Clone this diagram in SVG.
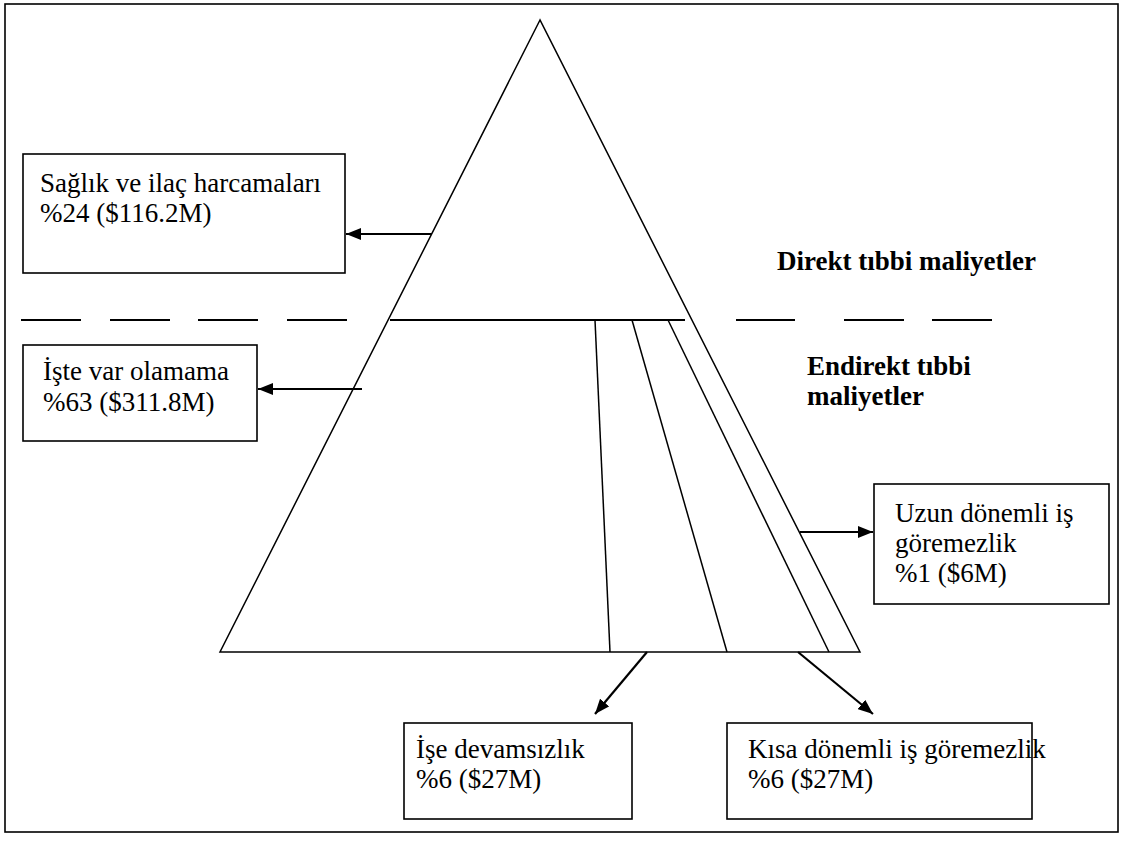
<svg xmlns="http://www.w3.org/2000/svg" width="1123" height="843" viewBox="0 0 1123 843">
<defs>
<marker id="ah" viewBox="0 0 10 10" refX="10" refY="5" markerWidth="15" markerHeight="12" markerUnits="userSpaceOnUse" orient="auto" preserveAspectRatio="none">
<path d="M0,0 L10,5 L0,10 z" fill="#000"/>
</marker>
</defs>
<style>
.t{font-family:"Liberation Serif","Times New Roman",serif;font-size:27px;fill:#000}
.b{font-weight:bold}
.box{fill:#fff;stroke:#000;stroke-width:1.6}
.ln{stroke:#000;stroke-width:1.5;fill:none}
.ar{stroke:#000;stroke-width:2.2;fill:none}
.ds{stroke:#000;stroke-width:2}
</style>
<rect width="1123" height="843" fill="#fff"/>
<rect x="5" y="4" width="1113" height="828" fill="none" stroke="#000" stroke-width="1.6"/>
<g id="pyramid">
<polygon points="540,20 220,652 860,652" class="ln"/>
<line x1="390" y1="320" x2="685" y2="320" class="ds"/>
<line x1="595" y1="320" x2="610" y2="652" class="ln"/>
<line x1="632" y1="320" x2="727" y2="652" class="ln"/>
<line x1="668" y1="320" x2="829" y2="652" class="ln"/>
</g>
<g id="divider">
<line x1="21" y1="320" x2="81" y2="320" class="ds"/>
<line x1="110" y1="320" x2="170" y2="320" class="ds"/>
<line x1="198" y1="320" x2="258" y2="320" class="ds"/>
<line x1="287" y1="320" x2="347" y2="320" class="ds"/>
<line x1="736" y1="320" x2="795" y2="320" class="ds"/>
<line x1="844" y1="320" x2="904" y2="320" class="ds"/>
<line x1="932" y1="320" x2="992" y2="320" class="ds"/>
</g>
<g id="label-direct">
<text class="t b" x="777" y="270">Direkt tıbbi maliyetler</text>
</g>
<g id="label-indirect">
<text class="t b" x="807" y="375">Endirekt tıbbi</text>
<text class="t b" x="807" y="405">maliyetler</text>
</g>
<g id="box-saglik">
<rect class="box" x="23" y="154" width="322" height="119"/>
<text class="t" x="40" y="192">Sağlık ve ilaç harcamaları</text>
<text class="t" x="40" y="222">%24 ($116.2M)</text>
</g>
<g id="box-iste">
<rect class="box" x="23" y="345" width="234" height="96"/>
<text class="t" x="43" y="380">İşte var olamama</text>
<text class="t" x="43" y="411">%63 ($311.8M)</text>
</g>
<g id="box-uzun">
<rect class="box" x="874" y="484" width="235" height="120"/>
<text class="t" x="895" y="522">Uzun dönemli iş</text>
<text class="t" x="895" y="552">göremezlik</text>
<text class="t" x="895" y="582">%1 ($6M)</text>
</g>
<g id="box-ise">
<rect class="box" x="404" y="723" width="228" height="96"/>
<text class="t" x="416" y="758">İşe devamsızlık</text>
<text class="t" x="416" y="788">%6 ($27M)</text>
</g>
<g id="box-kisa">
<rect class="box" x="727" y="723" width="305" height="96"/>
<text class="t" x="748" y="758">Kısa dönemli iş göremezlik</text>
<text class="t" x="748" y="788">%6 ($27M)</text>
</g>
<g id="connectors">
<line class="ar" x1="432" y1="234" x2="346" y2="234" marker-end="url(#ah)"/>
<line class="ar" x1="362" y1="389" x2="258" y2="389" marker-end="url(#ah)"/>
<line class="ar" x1="800" y1="532" x2="873" y2="532" marker-end="url(#ah)"/>
<line class="ar" x1="647" y1="652" x2="595" y2="714" marker-end="url(#ah)"/>
<line class="ar" x1="798" y1="652" x2="873" y2="714" marker-end="url(#ah)"/>
</g>
</svg>
